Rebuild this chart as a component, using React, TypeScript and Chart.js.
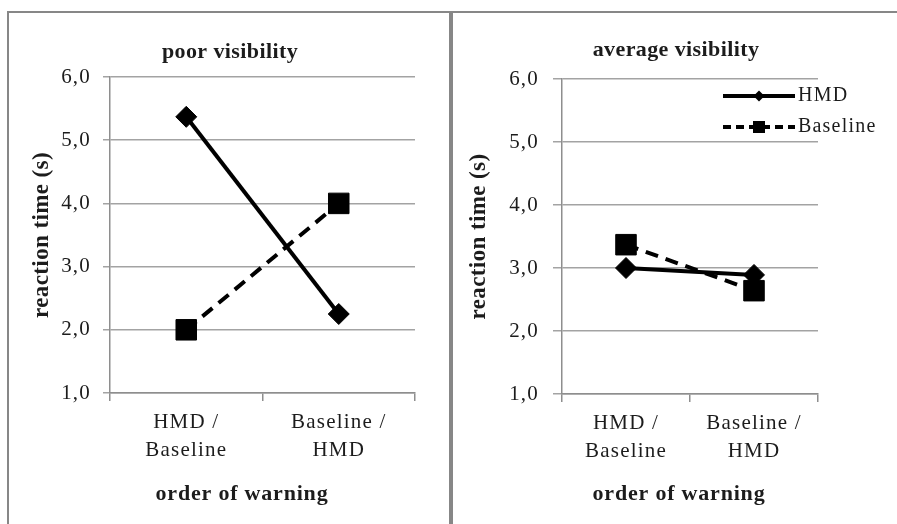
import React, { useEffect, useRef } from "react";
import { Chart, registerables } from "chart.js";

Chart.register(...registerables);

// ---------- data ----------
const categories: string[][] = [["HMD /", "Baseline"], ["Baseline /", "HMD"]];
const seriesNames = ["HMD", "Baseline"];
const poorHMD = [5.37, 2.25];
const poorBaseline = [2.0, 4.0];
const avgHMD = [3.0, 2.89];
const avgBaseline = [3.37, 2.64];
const yTickLabels = ["1,0", "2,0", "3,0", "4,0", "5,0", "6,0"];
const yMin = 1;
const yMax = 6;
const panelTitles = ["poor visibility", "average visibility"];
const xAxisTitle = "order of warning";
const yAxisTitle = "reaction time (s)";

// ---------- styles ----------
const FONT = '"Liberation Serif", "Times New Roman", serif';
const TEXT = "#1c1c1c";
const GRID = "#a3a3a3";
const AXIS = "#8e8e8e";
const BORDER = "#878787";

type PanelCfg = {
  left: number;
  width: number;
  height: number;
  top: number;
  titleX: number;
  titleY: number;
  yWidth: number;
  yTitleX: number;
  yTickLen: number;
  yTickPad: number;
  padRight: number;
  xHeight: number;
  xTitleX: number;
  xTitleY: number;
  legend: boolean;
};

const spacingPlugin = {
  id: "spacing",
  beforeDraw(chart: any) {
    try {
      (chart.ctx as any).letterSpacing = "1.2px";
    } catch (e) {}
  },
};

const textPlugin = {
  id: "textDraw",
  afterDraw(chart: any, _args: any, opts: any) {
    const ctx = chart.ctx;
    const ca = chart.chartArea;
    ctx.save();
    ctx.fillStyle = TEXT;
    ctx.textAlign = "center";
    ctx.textBaseline = "middle";
    (ctx as any).letterSpacing = "0.4px";
    ctx.font = `bold 22px ${FONT}`;
    ctx.fillText(opts.title, opts.titleX, opts.titleY);
    (ctx as any).letterSpacing = "0.8px";
    ctx.fillText(opts.xTitle, opts.xTitleX, opts.xTitleY);
    // y axis title (rotated)
    (ctx as any).letterSpacing = "0.4px";
    ctx.font = `bold 23px ${FONT}`;
    ctx.translate(opts.yTitleX, (ca.top + ca.bottom) / 2);
    ctx.rotate(-Math.PI / 2);
    ctx.fillText(opts.yTitle, 0, 0);
    ctx.restore();
  },
};

const lineLegendPlugin = {
  id: "lineLegend",
  afterDraw(chart: any, _args: any, opts: any) {
    if (!opts || !opts.show) return;
    const ctx = chart.ctx;
    const ca = chart.chartArea;
    const x0 = ca.right - 95;
    const x1 = ca.right - 23;
    const tx = ca.right - 20;
    const ys = [ca.top + 17, ca.top + 48];
    const mid = (x0 + x1) / 2;
    ctx.save();
    ctx.strokeStyle = "#000";
    ctx.fillStyle = "#000";
    ctx.lineWidth = 4;
    // HMD
    ctx.setLineDash([]);
    ctx.beginPath();
    ctx.moveTo(x0, ys[0]);
    ctx.lineTo(x1, ys[0]);
    ctx.stroke();
    ctx.beginPath();
    const r = 5.5;
    ctx.moveTo(mid - r, ys[0]);
    ctx.lineTo(mid, ys[0] - r);
    ctx.lineTo(mid + r, ys[0]);
    ctx.lineTo(mid, ys[0] + r);
    ctx.closePath();
    ctx.fill();
    // Baseline
    ctx.setLineDash([8, 5]);
    ctx.beginPath();
    ctx.moveTo(x0, ys[1]);
    ctx.lineTo(x1, ys[1]);
    ctx.stroke();
    ctx.setLineDash([]);
    ctx.fillRect(mid - 6, ys[1] - 6, 12, 12);
    // text
    (ctx as any).letterSpacing = "1.2px";
    ctx.font = `20px ${FONT}`;
    ctx.fillStyle = TEXT;
    ctx.textAlign = "left";
    ctx.textBaseline = "middle";
    ctx.fillText(opts.labels[0], tx, ys[0]);
    ctx.fillText(opts.labels[1], tx, ys[1]);
    ctx.restore();
  },
};

function Panel({
  cfg,
  title,
  hmd,
  baseline,
}: {
  cfg: PanelCfg;
  title: string;
  hmd: number[];
  baseline: number[];
}) {
  const ref = useRef<HTMLCanvasElement | null>(null);
  useEffect(() => {
    if (!ref.current) return;
    const chart = new Chart(ref.current, {
      type: "line",
      data: {
        labels: categories,
        datasets: [
          {
            label: seriesNames[0],
            data: hmd,
            borderColor: "#000",
            backgroundColor: "#000",
            borderWidth: 4,
            pointStyle: "rectRot",
            pointRadius: 10.5,
            pointBorderWidth: 1,
            pointBackgroundColor: "#000",
            pointBorderColor: "#000",
            tension: 0,
          },
          {
            label: seriesNames[1],
            data: baseline,
            borderColor: "#000",
            backgroundColor: "#000",
            borderWidth: 4,
            borderDash: [13, 8],
            pointStyle: "rect",
            pointRadius: 14.5,
            pointBorderWidth: 1,
            pointBackgroundColor: "#000",
            pointBorderColor: "#000",
            tension: 0,
          },
        ],
      },
      options: {
        responsive: false,
        animation: false,
        layout: { padding: { left: 0, right: cfg.padRight, top: cfg.top, bottom: 0 } },
        plugins: {
          legend: { display: false },
          tooltip: { enabled: false },
          title: { display: false },
          textDraw: {
            title,
            titleX: cfg.titleX,
            titleY: cfg.titleY,
            xTitle: xAxisTitle,
            xTitleX: cfg.xTitleX,
            xTitleY: cfg.xTitleY,
            yTitle: yAxisTitle,
            yTitleX: cfg.yTitleX,
          },
          lineLegend: { show: cfg.legend, labels: seriesNames },
        } as any,
        scales: {
          x: {
            type: "category",
            offset: true,
            afterFit: (s: any) => {
              s.height = cfg.xHeight;
            },
            grid: {
              offset: true,
              drawOnChartArea: false,
              drawTicks: true,
              tickLength: 8,
              color: AXIS,
              lineWidth: 1.5,
            },
            border: { color: AXIS, width: 1.5 },
            ticks: {
              color: TEXT,
              padding: 8,
              maxRotation: 0,
              autoSkip: false,
              font: { family: FONT, size: 21, lineHeight: 1.33 },
            },
          },
          y: {
            min: yMin,
            max: yMax,
            afterFit: (s: any) => {
              s.width = cfg.yWidth;
            },
            grid: {
              color: GRID,
              lineWidth: 1.5,
              drawTicks: true,
              tickLength: cfg.yTickLen,
            },
            border: { color: AXIS, width: 1.5 },
            ticks: {
              stepSize: 1,
              color: TEXT,
              padding: cfg.yTickPad,
              font: { family: FONT, size: 21 },
              callback: (_v: any, i: number) => yTickLabels[i],
            },
            title: { display: false },
          },
        },
      },
      plugins: [spacingPlugin, textPlugin, lineLegendPlugin],
    } as any);
    return () => chart.destroy();
  }, []);
  return (
    <canvas
      ref={ref}
      width={cfg.width}
      height={cfg.height}
      style={{ position: "absolute", left: cfg.left, top: 13, width: cfg.width, height: cfg.height }}
    />
  );
}

const leftCfg: PanelCfg = {
  left: 9,
  width: 440,
  height: 511,
  top: 64,
  titleX: 221,
  titleY: 39,
  yWidth: 101,
  yTitleX: 33,
  yTickLen: 7,
  yTickPad: 12,
  padRight: 34,
  xHeight: 131,
  xTitleX: 233,
  xTitleY: 481,
  legend: false,
};

const rightCfg: PanelCfg = {
  left: 454,
  width: 443,
  height: 511,
  top: 66,
  titleX: 222,
  titleY: 37,
  yWidth: 108,
  yTitleX: 25,
  yTickLen: 9,
  yTickPad: 14,
  padRight: 79,
  xHeight: 130,
  xTitleX: 225,
  xTitleY: 481,
  legend: true,
};

export default function App() {
  return (
    <div
      style={{
        position: "absolute",
        left: 0,
        top: 0,
        width: 897,
        height: 524,
        overflow: "hidden",
        background: "#fff",
      }}
    >
      <div
        style={{
          position: "absolute",
          left: 7,
          top: 11,
          width: 444,
          height: 600,
          border: `2px solid ${BORDER}`,
          boxSizing: "border-box",
        }}
      />
      <div
        style={{
          position: "absolute",
          left: 451,
          top: 11,
          width: 480,
          height: 600,
          border: `2px solid ${BORDER}`,
          boxSizing: "border-box",
        }}
      />
      <Panel cfg={leftCfg} title={panelTitles[0]} hmd={poorHMD} baseline={poorBaseline} />
      <Panel cfg={rightCfg} title={panelTitles[1]} hmd={avgHMD} baseline={avgBaseline} />
    </div>
  );
}
